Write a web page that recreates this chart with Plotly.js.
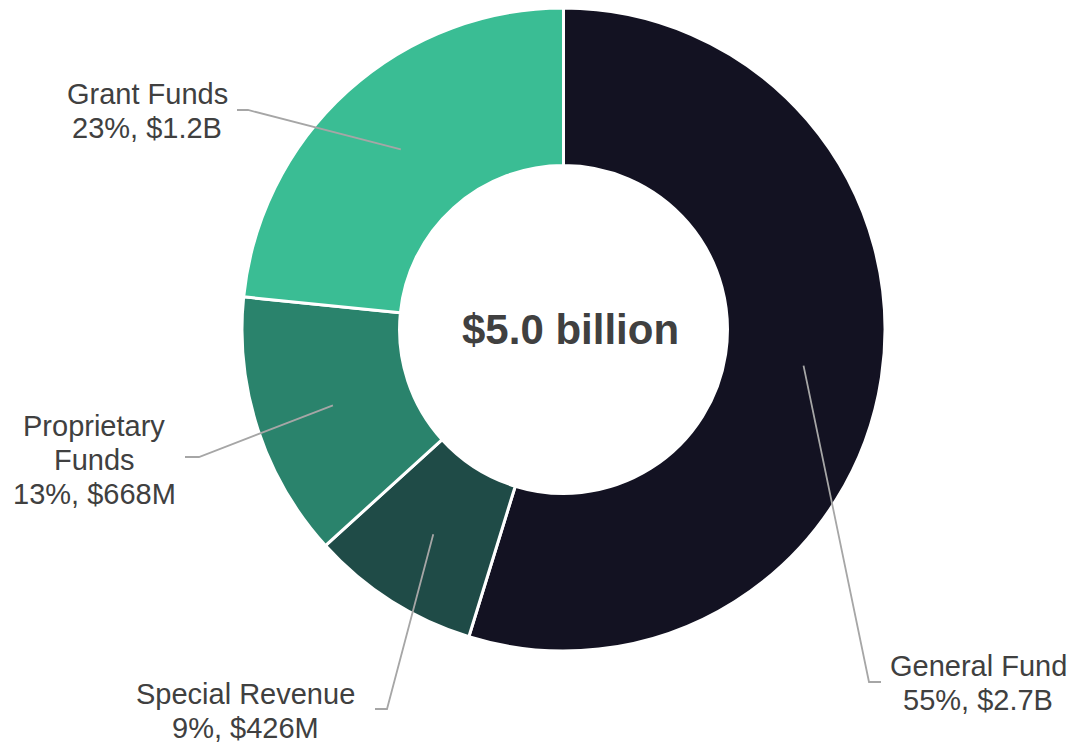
<!DOCTYPE html>
<html>
<head>
<meta charset="utf-8">
<script src="https://cdn.plot.ly/plotly-3.0.1.min.js"></script>
<style>html,body{margin:0;padding:0;background:#fff;}#chart{width:1071px;height:743px;}</style>
</head>
<body>
<div id="chart"></div>
<script>
// ---- data ----
const categories = ["General Fund", "Special Revenue", "Proprietary Funds", "Grant Funds"];
const labelNames = ["General Fund", "Special Revenue", "Proprietary<br>Funds", "Grant Funds"];
const valuesBillions = [2.74, 0.426, 0.668, 1.17];
const colors = ["#131222", "#1F4B47", "#2A836C", "#3ABD94"];
const centerText = "$5.0 billion";

// ---- label layout (pixels) ----
const W = 1071, H = 743;
const M = {l: 0, r: 0, t: 8, b: 92};
const labelLayout = [
  {cx: 978, base: 676, bend: [869, 682], end: 881},
  {cx: 245, base: 704, bend: [387, 709], end: 375},
  {cx: 94,  base: 436, bend: [199, 457], end: 185},
  {cx: 147, base: 104, bend: [248, 110], end: 237}
];
const fontSize = 29, lineGap = 34;
const hole = 0.51;
const centerTextX = 570;

const plotH = H - M.t - M.b;
const R = plotH / 2;
const cx = 563.5, cy = M.t + R;
const domX0 = 2 * cx / W - 1;
const toPX = x => x / W;
const toPY = y => (H - M.b - y) / plotH;

const total = valuesBillions.reduce((a, b) => a + b, 0);
function fmtVal(v) { return v >= 1 ? "$" + v.toFixed(1) + "B" : "$" + Math.round(v * 1000) + "M"; }

const shapes = [];
const annotations = [];
let cum = 0;
valuesBillions.forEach((v, i) => {
  const frac = v / total;
  const mid = (cum + frac / 2) * 2 * Math.PI;
  cum += frac;
  const rMid = R * (1 + hole) / 2;
  const sx = cx + rMid * Math.sin(mid);
  const sy = cy - rMid * Math.cos(mid);
  const L = labelLayout[i];
  shapes.push({type: "path", xref: "paper", yref: "paper",
    path: `M ${toPX(sx)} ${toPY(sy)} L ${toPX(L.bend[0])} ${toPY(L.bend[1])} L ${toPX(L.end)} ${toPY(L.bend[1])}`,
    line: {color: "#A6A6A6", width: 1.8}});
  const lines = labelNames[i].split("<br>").concat([Math.round(frac * 100) + "%, " + fmtVal(v)]);
  lines.forEach((t, k) => {
    annotations.push({xref: "paper", yref: "paper", x: toPX(L.cx), y: toPY(L.base + k * lineGap - 10),
      xanchor: "center", yanchor: "middle", text: t, showarrow: false,
      font: {family: "Liberation Sans, Arial, sans-serif", size: fontSize, color: "#404040"}});
  });
});
annotations.push({xref: "paper", yref: "paper", x: toPX(centerTextX), y: toPY(cy), xanchor: "center", yanchor: "middle",
  text: "<b>" + centerText + "</b>", showarrow: false,
  font: {family: "Liberation Sans, Arial, sans-serif", size: 42, color: "#404040"}});

const trace = {
  type: "pie", labels: categories, values: valuesBillions, hole: hole,
  sort: false, direction: "clockwise", rotation: 0,
  marker: {colors: colors, line: {color: "#FFFFFF", width: 3}},
  textinfo: "none", hoverinfo: "label+percent", showlegend: false,
  domain: {x: [domX0, 1], y: [0, 1]}
};

Plotly.newPlot("chart", [trace], {
  width: W, height: H, margin: M, showlegend: false,
  paper_bgcolor: "#FFFFFF", plot_bgcolor: "#FFFFFF",
  shapes: shapes, annotations: annotations
}, {displayModeBar: false, staticPlot: true});
</script>
</body>
</html>
